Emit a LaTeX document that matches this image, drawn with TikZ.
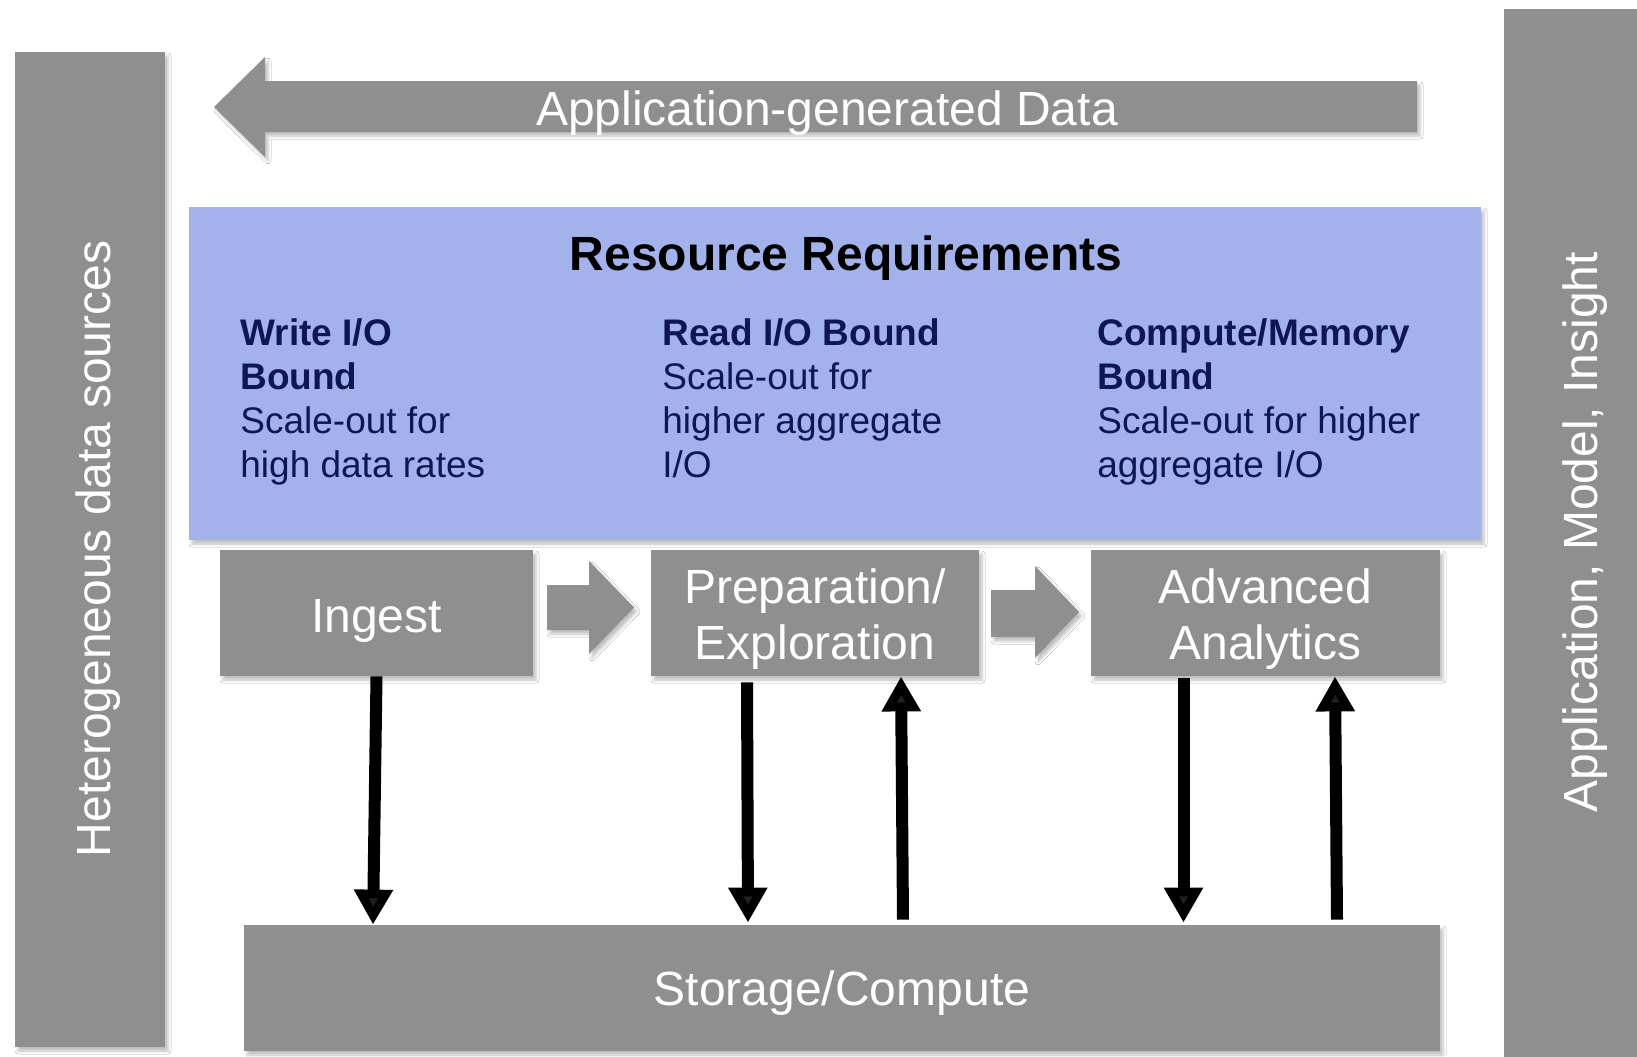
\documentclass[tikz,border=0pt]{standalone}
\usepackage{fontspec}
\setmainfont{Liberation Sans}
\usetikzlibrary{arrows.meta,shadows.blur}
\definecolor{boxgray}{RGB}{143,143,143}
\definecolor{reqblue}{RGB}{164,178,236}
\definecolor{reqnavy}{RGB}{14,22,86}

\begin{document}
\begin{tikzpicture}[x=0.5pt,y=-0.5pt,
  softshadow/.style={blur shadow={shadow xshift=1.5pt,shadow yshift=-2pt,shadow blur radius=1.5pt,shadow opacity=25}},
  block/.style={rectangle,fill=boxgray,draw=none,inner sep=0,softshadow},
  lbl/.style={text=white,font=\fontsize{24}{28}\selectfont,inner sep=0,anchor=base},
  col/.style={text=reqnavy,font=\fontsize{18.5}{22.1}\selectfont,inner sep=0,anchor=base west},
  flow/.style={line width=6pt,-{Triangle[length=17.5pt,width=18.5pt]}},
  chevron/.style={fill=boxgray,softshadow}
]
\useasboundingbox (0,0) rectangle (1637,1056);
\fill[white] (0,0) rectangle (1637,1056);

% side bars
\node[block,minimum width=75pt,minimum height=497.5pt] (src) at (90,549.5) {};
\node[lbl,rotate=90] (srclbl) at (110,549) {Heterogeneous data sources};
\node[block,minimum width=70.5pt,minimum height=525.5pt] (out) at (1574.5,534.5) {};
\node[lbl,rotate=90] (outlbl) at (1597,532) {Application, Model, Insight};

% feedback arrow along the top
\fill[chevron] (214,107) -- (265,57) -- (265,81) -- (1417,81) -- (1417,132)
  -- (265,132) -- (265,157) -- cycle;
\node[lbl] (gen) at (827,125) {Application-generated Data};

% resource requirements panel
\node[rectangle,fill=reqblue,inner sep=0,minimum width=646pt,minimum height=166.5pt,softshadow] (req) at (835,373.5) {};
\node[font=\bfseries\fontsize{24}{29}\selectfont,inner sep=0,anchor=base] (reqtitle) at (846,270) {Resource Requirements};
\node[col] (wio) at (240,345) {\parbox[t]{200pt}{\raggedright\textbf{Write I/O}\\\textbf{Bound}\\Scale-out for\\high data rates}};
\node[col] (rio) at (662,345) {\parbox[t]{200pt}{\raggedright\textbf{Read I/O Bound}\\Scale-out for\\higher aggregate\\I/O}};
\node[col] (cmb) at (1097,345) {\parbox[t]{180pt}{\raggedright\textbf{Compute/Memory}\\\textbf{Bound}\\Scale-out for higher\\aggregate I/O}};

% pipeline stages
\node[block,minimum width=156.5pt,minimum height=63pt] (ingest) at (376.5,613) {};
\node[lbl] (ingestlbl) at (376.5,632) {Ingest};
\node[block,minimum width=164pt,minimum height=63pt] (prep) at (815,613) {};
\node[lbl] (preplbl) at (815,603) {\parbox[t]{160pt}{\centering Preparation/\\Exploration}};
\node[block,minimum width=174.5pt,minimum height=63pt] (adv) at (1265.5,613) {};
\node[lbl] (advlbl) at (1265.5,603) {\parbox[t]{170pt}{\centering Advanced\\Analytics}};

% block arrows between stages
\fill[chevron] (547,585) -- (589,585) -- (589,561) -- (634,607.5) -- (589,654)
  -- (589,630) -- (547,630) -- cycle;
\fill[chevron] (991,590) -- (1035,590) -- (1035,566) -- (1079,612) -- (1035,658)
  -- (1035,637) -- (991,637) -- cycle;

% storage layer
\node[block,minimum width=598pt,minimum height=63pt] (store) at (842,988) {};
\node[lbl] (storelbl) at (842,1005) {Storage/Compute};

% data movement between stages and storage
\draw[flow] (ingest.south) -- ([xshift=-1.75pt]ingest.south |- store.north);
\draw[flow] ([xshift=-34pt,yshift=-3pt]prep.south) -- ([xshift=-33.5pt,yshift=1pt]prep.south |- store.north);
\draw[flow] ([xshift=44pt,yshift=2.5pt]prep.south |- store.north) -- ([xshift=43pt]prep.south);
\draw[flow] ([xshift=-41pt,yshift=-1pt]adv.south) -- ([xshift=-41pt,yshift=1pt]adv.south |- store.north);
\draw[flow] ([xshift=35.75pt,yshift=2.5pt]adv.south |- store.north) -- ([xshift=34.75pt]adv.south);
\end{tikzpicture}
\end{document}
